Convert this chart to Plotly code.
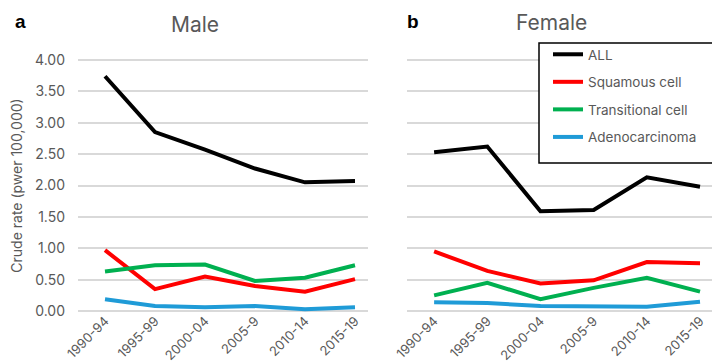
import plotly.graph_objects as go

periods = ["1990-94", "1995-99", "2000-04", "2005-9", "2010-14", "2015-19"]
series_names = ["ALL", "Squamous cell", "Transitional cell", "Adenocarcinoma"]
colors = ["#000000", "#ff0000", "#00b050", "#1f9bd7"]

male_all = [3.74, 2.85, 2.57, 2.27, 2.05, 2.07]
male_squamous = [0.97, 0.35, 0.55, 0.40, 0.31, 0.51]
male_transitional = [0.63, 0.73, 0.74, 0.48, 0.53, 0.73]
male_adeno = [0.19, 0.08, 0.06, 0.08, 0.03, 0.06]

female_all = [2.53, 2.62, 1.59, 1.61, 2.13, 1.98]
female_squamous = [0.95, 0.64, 0.44, 0.49, 0.78, 0.76]
female_transitional = [0.25, 0.45, 0.19, 0.37, 0.53, 0.31]
female_adeno = [0.14, 0.13, 0.08, 0.07, 0.07, 0.15]

yticks = [0, 0.5, 1, 1.5, 2, 2.5, 3, 3.5, 4]
ytick_labels = ["0.00", "0.50", "1.00", "1.50", "2.00", "2.50", "3.00", "3.50", "4.00"]

male = [male_all, male_squamous, male_transitional, male_adeno]
female = [female_all, female_squamous, female_transitional, female_adeno]

fig = go.Figure()
for name, col, vals in zip(series_names, colors, male):
    fig.add_trace(go.Scatter(x=periods, y=vals, mode="lines", name=name,
                             line=dict(color=col, width=4), xaxis="x", yaxis="y",
                             showlegend=False))
for name, col, vals in zip(series_names, colors, female):
    fig.add_trace(go.Scatter(x=periods, y=vals, mode="lines", name=name,
                             line=dict(color=col, width=4), xaxis="x2", yaxis="y2",
                             legendgroup=name, showlegend=True))

H_TOP, H_BOT = 45, 310


def py(p):
    return (H_BOT - p) / (H_BOT - H_TOP)


gray = "#595959"
font_family = "Inter, 'Open Sans', sans-serif"
axis_common = dict(showgrid=False, showline=False, zeroline=False, automargin=False,
                   tickangle=-45, tickfont=dict(size=13, color=gray, family=font_family),
                   type="category", ticks="", ticklabelstandoff=-8)
yaxis_common = dict(range=[-0.11, 4.11], tickvals=yticks, ticktext=ytick_labels,
                    showgrid=True, gridcolor="#d9d9d9", gridwidth=1.5, zeroline=False,
                    showline=False, ticks="", automargin=False)

fig.update_layout(
    width=720, height=362,
    margin=dict(l=0, r=0, t=H_TOP, b=362 - H_BOT, autoexpand=False),
    paper_bgcolor="white", plot_bgcolor="white",
    font=dict(family=font_family, color=gray),
    xaxis=dict(domain=[70/720, 360/720], range=[-0.54, 5.26], **axis_common),
    xaxis2=dict(domain=[399/720, 717/720], range=[-0.51, 5.47], **axis_common),
    yaxis=dict(anchor="x", tickfont=dict(size=14, color=gray, family=font_family),
               ticklabelstandoff=12,
               title=dict(text="Crude rate (pwer 100,000)", font=dict(size=14, color=gray),
                          standoff=12),
               **yaxis_common),
    yaxis2=dict(anchor="x2", showticklabels=False, **yaxis_common),
    legend=dict(x=540/720, y=py(31), xanchor="left", yanchor="top",
                borderwidth=0, bgcolor="rgba(0,0,0,0)",
                font=dict(size=13.5, color=gray, family=font_family),
                tracegroupgap=7, itemwidth=30),
    showlegend=True,
    shapes=[
        dict(type="rect", xref="paper", yref="paper",
             x0=531/720, x1=715/720, y0=py(155), y1=py(35),
             fillcolor="white", line=dict(color="#000000", width=1.5), layer="above"),
    ],
    annotations=[
        dict(text="Male", x=187/720, y=py(16), xref="paper", yref="paper",
             xanchor="center", yanchor="middle",
             showarrow=False, font=dict(size=21, color=gray, family=font_family)),
        dict(text="Female", x=543/720, y=py(14), xref="paper", yref="paper",
             xanchor="center", yanchor="middle",
             showarrow=False, font=dict(size=21, color=gray, family=font_family)),
        dict(text="<b>a</b>", x=12/720, y=py(13), xref="paper", yref="paper",
             xanchor="center", yanchor="middle",
             showarrow=False, font=dict(size=19, color="#000000", family="Liberation Sans")),
        dict(text="<b>b</b>", x=405/720, y=py(13), xref="paper", yref="paper",
             xanchor="center", yanchor="middle",
             showarrow=False, font=dict(size=19, color="#000000", family="Liberation Sans")),
    ],
)

fig.write_html("out.html")
